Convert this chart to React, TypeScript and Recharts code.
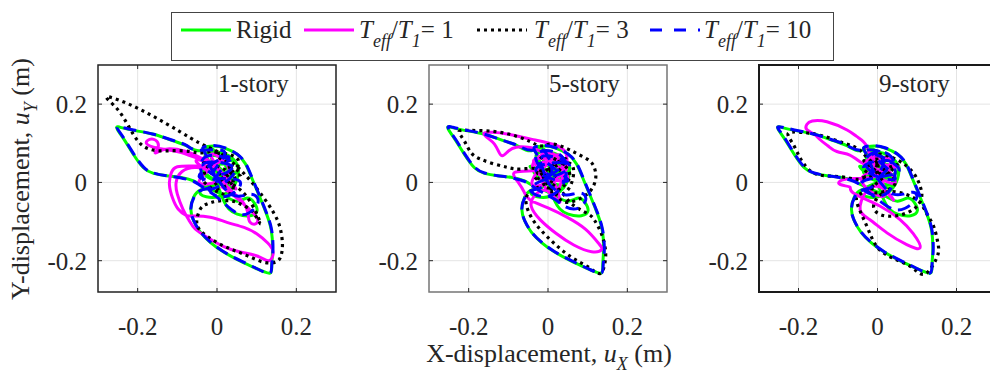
import React from 'react';
import { LineChart, Line, XAxis, YAxis, CartesianGrid, ReferenceArea } from 'recharts';

type P = [number, number];

const X_TICKS = [-0.2, 0, 0.2];
const Y_TICKS = [-0.2, 0, 0.2];
const X_DOMAIN: [number, number] = [-0.3, 0.3];
const Y_DOMAIN: [number, number] = [-0.28, 0.3];
const PANEL_TITLES = ['1-story', '5-story', '9-story'];

// Rigid base (same ground-level response for every building)
const RIGID: P[] = [
  [0.0, 0.0], [0.03, 0.045], [-0.035, 0.025], [0.045, -0.005], [-0.015, 0.065], [0.055, 0.035], [-0.04, -0.02], [0.02, -0.03],
  [0.045, 0.055], [-0.03, 0.07], [0.01, 0.015], [-0.045, 0.04], [0.035, -0.015], [0.0, 0.075],
  [-0.042, 0.081], [-0.076, 0.093], [-0.11, 0.106], [-0.16, 0.123], [-0.211, 0.133], [-0.241, 0.14], [-0.253, 0.141],
  [-0.246, 0.127], [-0.232, 0.106], [-0.211, 0.072], [-0.186, 0.038], [-0.16, 0.023], [-0.127, 0.017], [-0.093, 0.013],
  [-0.059, 0.004], [-0.042, -0.006],
  [-0.008, -0.021], [0.025, -0.038], [0.051, -0.048], [0.076, -0.04], [0.093, -0.051], [0.101, -0.072], [0.084, -0.085],
  [0.051, -0.081], [0.03, -0.068], [0.017, -0.047], [0.004, -0.013], [-0.012, 0.03], [-0.03, 0.075], [-0.034, 0.089],
  [-0.008, 0.093], [0.021, 0.087], [0.051, 0.072], [0.072, 0.047], [0.089, 0.008], [0.108, -0.038], [0.125, -0.081],
  [0.137, -0.123], [0.14, -0.174], [0.138, -0.212], [0.133, -0.232],
  [0.101, -0.221], [0.059, -0.201], [0.017, -0.178], [-0.017, -0.153], [-0.042, -0.127], [-0.059, -0.098], [-0.066, -0.068],
  [-0.059, -0.038], [-0.042, -0.02], [-0.017, -0.013], [0.0, 0.0],
];

// Teff/T1 = 1
const SSI1_1STORY: P[] = [
  [-0.03, 0.035], [0.015, 0.06], [-0.045, 0.0], [0.03, 0.025], [-0.015, 0.07], [0.045, -0.015], [0.0, 0.035], [-0.05, 0.05], [0.03, 0.0], [-0.02, 0.055],
  [-0.04, 0.06], [-0.09, 0.076], [-0.13, 0.084], [-0.16, 0.09], [-0.178, 0.1], [-0.17, 0.11], [-0.155, 0.108], [-0.148, 0.092],
  [-0.156, 0.076], [-0.145, 0.08], [-0.12, 0.086], [-0.08, 0.08], [-0.045, 0.065], [-0.02, 0.045],
  [-0.06, 0.042], [-0.1, 0.04], [-0.115, 0.025], [-0.12, -0.005], [-0.112, -0.04], [-0.098, -0.068], [-0.078, -0.084],
  [-0.059, -0.086], [-0.017, -0.089], [0.025, -0.102], [0.068, -0.115], [0.101, -0.132], [0.128, -0.155], [0.141, -0.175],
  [0.139, -0.192], [0.128, -0.2],
  [0.101, -0.188], [0.059, -0.178], [0.017, -0.164], [-0.025, -0.14], [-0.055, -0.119], [-0.07, -0.098], [-0.086, -0.068],
  [-0.1, -0.03], [-0.103, 0.0], [-0.088, 0.028], [-0.05, 0.038], [-0.005, 0.02], [0.035, -0.02], [0.065, -0.05],
  [0.078, -0.078], [0.082, -0.1], [0.097, -0.106], [0.102, -0.092], [0.085, -0.072], [0.05, -0.04], [0.01, -0.01],
];
const SSI1_5STORY: P[] = [
  [0.0, 0.02], [-0.03, 0.06], [0.045, 0.035], [-0.04, -0.005], [0.03, 0.07], [0.015, -0.03], [-0.015, 0.05], [0.05, 0.01], [-0.035, 0.03], [0.005, 0.075],
  [0.04, 0.035], [0.048, 0.045], [0.045, 0.075], [0.02, 0.095], [-0.04, 0.11], [-0.1, 0.123], [-0.14, 0.128], [-0.162, 0.125],
  [-0.15, 0.112], [-0.135, 0.098], [-0.125, 0.08], [-0.115, 0.068], [-0.1, 0.08], [-0.08, 0.09], [-0.05, 0.09], [-0.02, 0.08], [0.0, 0.05],
  [-0.04, 0.03], [-0.085, 0.025], [-0.075, 0.0], [-0.06, -0.025], [-0.045, -0.045],
  [0.0, -0.065], [0.05, -0.09], [0.095, -0.12], [0.127, -0.155], [0.135, -0.172],
  [0.11, -0.177], [0.065, -0.16], [0.02, -0.13], [-0.02, -0.095], [-0.042, -0.062], [-0.035, -0.035],
  [-0.01, -0.02], [0.015, -0.035], [0.03, -0.05], [0.02, -0.01], [0.0, 0.02],
];
const SSI1_9STORY: P[] = [
  [0.0, 0.02], [0.03, 0.06], [-0.03, 0.045], [0.045, 0.0], [-0.02, 0.075], [0.02, -0.03], [-0.04, 0.01], [0.05, 0.04], [0.0, 0.05],
  [-0.027, 0.092], [-0.052, 0.117], [-0.077, 0.134], [-0.128, 0.155], [-0.165, 0.157], [-0.179, 0.148], [-0.179, 0.135],
  [-0.16, 0.123], [-0.145, 0.109], [-0.125, 0.093], [-0.103, 0.079], [-0.07, 0.07], [-0.04, 0.05], [0.0, 0.02],
  [-0.05, 0.01], [-0.09, 0.006], [-0.095, -0.005], [-0.07, -0.012], [-0.061, -0.027],
  [0.007, -0.061], [0.057, -0.095], [0.09, -0.13], [0.108, -0.167],
  [0.074, -0.159], [0.024, -0.129], [-0.02, -0.095], [-0.044, -0.069], [-0.03, -0.025], [0.0, -0.01], [0.03, -0.03],
  [0.04, -0.045], [0.02, -0.02], [0.0, 0.0],
];

// Teff/T1 = 3
const SSI3_1STORY: P[] = [
  [0.01, 0.02], [-0.03, 0.05], [0.045, 0.01], [-0.015, -0.015], [0.055, 0.05], [0.0, 0.07], [0.06, 0.02], [-0.04, 0.02], [0.03, -0.03], [0.02, 0.06],
  [-0.034, 0.076], [-0.068, 0.079], [-0.11, 0.081], [-0.152, 0.081], [-0.186, 0.093], [-0.211, 0.123], [-0.236, 0.166],
  [-0.262, 0.199], [-0.278, 0.219],
  [-0.229, 0.203], [-0.161, 0.169], [-0.094, 0.13], [-0.043, 0.1], [0.0, 0.079], [0.041, 0.049], [0.075, 0.015],
  [0.109, -0.027], [0.143, -0.078], [0.16, -0.12], [0.165, -0.16], [0.162, -0.185], [0.151, -0.202],
  [0.118, -0.204], [0.076, -0.187], [0.034, -0.17], [-0.008, -0.149], [-0.042, -0.123], [-0.051, -0.098], [-0.042, -0.068],
  [-0.025, -0.055], [0.0, -0.048], [0.034, -0.047], [0.059, -0.055], [0.085, -0.07], [0.1, -0.09], [0.11, -0.105],
  [0.09, -0.06], [0.06, -0.02], [0.03, 0.0], [0.0, 0.02],
];
const SSI3_5STORY: P[] = [
  [0.01, 0.03], [-0.03, 0.01], [0.045, 0.06], [0.0, -0.02], [0.055, 0.02], [-0.02, 0.06], [0.03, -0.03], [0.06, 0.045], [-0.015, 0.025],
  [-0.03, 0.034], [-0.068, 0.034], [-0.101, 0.038], [-0.135, 0.047], [-0.169, 0.059], [-0.194, 0.076], [-0.211, 0.106], [-0.224, 0.13],
  [-0.2, 0.133], [-0.16, 0.132], [-0.12, 0.128], [-0.08, 0.118], [-0.045, 0.104], [-0.017, 0.093], [0.008, 0.098], [0.042, 0.089],
  [0.076, 0.072], [0.105, 0.055], [0.118, 0.034], [0.12, 0.008], [0.11, -0.017], [0.093, -0.034], [0.068, -0.047], [0.04, -0.05], [0.02, -0.03],
  [0.0, 0.0], [0.03, -0.02], [0.06, -0.055], [0.1, -0.08], [0.118, -0.098], [0.135, -0.132], [0.145, -0.174], [0.143, -0.208], [0.131, -0.233],
  [0.101, -0.216], [0.059, -0.191], [0.017, -0.157], [-0.017, -0.123], [-0.042, -0.089], [-0.055, -0.055], [-0.051, -0.03], [-0.03, -0.015], [0.0, 0.0],
];
const SSI3_9STORY: P[] = [
  [0.01, 0.02], [-0.03, 0.055], [0.045, 0.0], [-0.015, -0.02], [0.05, 0.045], [-0.035, 0.015], [0.02, 0.07], [0.0, 0.05],
  [-0.042, 0.08], [-0.084, 0.1], [-0.143, 0.12], [-0.194, 0.128], [-0.226, 0.125],
  [-0.215, 0.1], [-0.2, 0.07], [-0.186, 0.047], [-0.16, 0.023], [-0.118, 0.016], [-0.076, 0.012], [-0.042, 0.008], [0.0, 0.03],
  [0.0, 0.07], [0.049, 0.058], [0.091, 0.024], [0.108, -0.01], [0.112, -0.036], [0.1, -0.061], [0.074, -0.078], [0.041, -0.086],
  [0.007, -0.082], [-0.01, -0.06], [0.01, -0.03], [0.05, -0.025],
  [0.1, -0.045], [0.125, -0.08], [0.142, -0.112], [0.152, -0.15], [0.154, -0.18], [0.14, -0.212], [0.116, -0.235],
  [0.085, -0.216], [0.042, -0.195], [0.0, -0.166], [-0.027, -0.112], [-0.052, -0.052], [-0.045, -0.03], [-0.02, -0.015], [0.0, 0.0],
];

// Teff/T1 = 10
const SSI10_1STORY: P[] = [
  [0.005, 0.01], [-0.03, 0.05], [0.045, 0.03], [-0.02, -0.015], [0.03, 0.065], [-0.045, 0.015], [0.055, 0.005], [0.0, -0.035],
  [-0.035, 0.06], [0.04, 0.045], [-0.01, 0.02], [0.02, 0.075],
  [-0.042, 0.082], [-0.076, 0.094], [-0.11, 0.107], [-0.16, 0.123], [-0.21, 0.134], [-0.24, 0.141], [-0.252, 0.141],
  [-0.245, 0.128], [-0.231, 0.107], [-0.21, 0.073], [-0.185, 0.039], [-0.16, 0.024], [-0.127, 0.017], [-0.093, 0.012],
  [-0.06, 0.003], [-0.042, -0.008],
  [-0.01, -0.03], [0.02, -0.055], [0.04, -0.072], [0.06, -0.082], [0.08, -0.078], [0.1, -0.06], [0.102, -0.04], [0.085, -0.03],
  [0.06, -0.035], [0.035, -0.03], [0.015, -0.01], [-0.012, 0.03], [-0.03, 0.075], [-0.034, 0.09],
  [-0.008, 0.094], [0.021, 0.088], [0.051, 0.072], [0.073, 0.047], [0.09, 0.008], [0.109, -0.038], [0.126, -0.081],
  [0.138, -0.123], [0.141, -0.174], [0.138, -0.212], [0.132, -0.232],
  [0.1, -0.22], [0.059, -0.2], [0.017, -0.177], [-0.017, -0.152], [-0.042, -0.126], [-0.059, -0.097], [-0.066, -0.068],
  [-0.058, -0.038], [-0.04, -0.02], [-0.015, -0.012], [0.005, 0.01],
];
const SSI10_5STORY: P[] = [
  [0.0, 0.015], [0.035, 0.05], [-0.03, 0.03], [0.05, 0.005], [-0.015, 0.065], [0.055, 0.04], [-0.04, -0.01], [0.015, -0.03],
  [0.04, 0.06], [-0.03, 0.07], [0.005, 0.02], [-0.005, 0.075],
  [-0.042, 0.082], [-0.076, 0.094], [-0.11, 0.106], [-0.16, 0.123], [-0.21, 0.134], [-0.24, 0.141], [-0.252, 0.142],
  [-0.245, 0.128], [-0.231, 0.107], [-0.21, 0.073], [-0.185, 0.039], [-0.16, 0.024], [-0.127, 0.017], [-0.093, 0.012],
  [-0.06, 0.003], [-0.042, -0.008],
  [-0.01, -0.028], [0.02, -0.045], [0.04, -0.06], [0.065, -0.068], [0.085, -0.06], [0.095, -0.045], [0.09, -0.03], [0.07, -0.028],
  [0.045, -0.032], [0.02, -0.02], [0.0, 0.0], [-0.015, 0.04], [-0.03, 0.075], [-0.034, 0.09],
  [-0.008, 0.094], [0.021, 0.088], [0.051, 0.072], [0.073, 0.047], [0.09, 0.008], [0.109, -0.038], [0.126, -0.081],
  [0.138, -0.123], [0.142, -0.174], [0.139, -0.212], [0.133, -0.232],
  [0.1, -0.22], [0.059, -0.2], [0.017, -0.177], [-0.017, -0.152], [-0.042, -0.126], [-0.059, -0.097], [-0.066, -0.068],
  [-0.058, -0.038], [-0.04, -0.02], [-0.015, -0.012], [0.0, 0.015],
];
const SSI10_9STORY: P[] = [
  [0.0, 0.01], [0.03, 0.055], [-0.035, 0.035], [0.045, 0.01], [-0.01, 0.07], [0.055, 0.03], [-0.04, 0.0], [0.02, -0.03],
  [0.035, 0.065], [-0.03, 0.06], [0.0, 0.025], [0.01, 0.075],
  [-0.042, 0.082], [-0.076, 0.094], [-0.11, 0.107], [-0.16, 0.123], [-0.21, 0.134], [-0.241, 0.141], [-0.253, 0.141],
  [-0.245, 0.128], [-0.231, 0.107], [-0.21, 0.073], [-0.185, 0.039], [-0.16, 0.024], [-0.127, 0.017], [-0.093, 0.012],
  [-0.06, 0.003], [-0.042, -0.008],
  [-0.01, -0.035], [0.02, -0.058], [0.045, -0.07], [0.07, -0.066], [0.092, -0.05], [0.1, -0.035], [0.09, -0.025], [0.065, -0.03],
  [0.04, -0.03], [0.02, -0.015], [0.0, 0.01], [-0.015, 0.04], [-0.03, 0.075], [-0.034, 0.09],
  [-0.008, 0.094], [0.021, 0.088], [0.051, 0.072], [0.073, 0.047], [0.09, 0.008], [0.109, -0.038], [0.126, -0.081],
  [0.138, -0.123], [0.141, -0.174], [0.138, -0.212], [0.132, -0.232],
  [0.1, -0.22], [0.059, -0.2], [0.017, -0.177], [-0.017, -0.152], [-0.042, -0.126], [-0.059, -0.097], [-0.066, -0.068],
  [-0.058, -0.038], [-0.04, -0.02], [-0.015, -0.012], [0.0, 0.01],
];

const PANEL_SSI1 = [SSI1_1STORY, SSI1_5STORY, SSI1_9STORY];
const PANEL_SSI3 = [SSI3_1STORY, SSI3_5STORY, SSI3_9STORY];
const PANEL_SSI10 = [SSI10_1STORY, SSI10_5STORY, SSI10_9STORY];

const toRows = (pts: P[]) => pts.map(([x, y]) => ({ x, y }));

const FONT = '"Liberation Serif", "Times New Roman", serif';
const TEXT_COLOR = '#262626';
const PLOT_TOP = 65;

const PANEL_LAYOUT = [
  { left: 0, width: 340, mLeft: 58, mRight: 4, frame: '#262626', frameW: 1.5 },
  { left: 340, width: 330, mLeft: 49, mRight: 3, frame: '#7a7a7a', frameW: 1.5 },
  { left: 670, width: 330, mLeft: 49, mRight: 4, frame: '#1a1a1a', frameW: 2 },
];

const makeXTick = () => (props: any) => {
  const { x, y, payload } = props;
  return (
    <g>
      <line x1={x} y1={y} x2={x} y2={y - 4} stroke="#262626" strokeWidth={1} />
      <line x1={x} y1={PLOT_TOP} x2={x} y2={PLOT_TOP + 4} stroke="#262626" strokeWidth={1} />
      <text x={x} y={y + 43} textAnchor="middle" fontSize={25} fontFamily={FONT} fill={TEXT_COLOR}>
        {String(payload.value)}
      </text>
    </g>
  );
};

const makeYTick = (plotRight: number) => (props: any) => {
  const { x, y, payload } = props;
  return (
    <g>
      <line x1={x} y1={y} x2={x + 4} y2={y} stroke="#262626" strokeWidth={1} />
      <line x1={plotRight - 4} y1={y} x2={plotRight} y2={y} stroke="#262626" strokeWidth={1} />
      <text x={x - 11} y={y + 9} textAnchor="end" fontSize={25} fontFamily={FONT} fill={TEXT_COLOR}>
        {String(payload.value)}
      </text>
    </g>
  );
};

function Panel({ idx }: { idx: number }) {
  const L = PANEL_LAYOUT[idx];
  const plotRight = L.width - L.mRight;
  return (
    <div style={{ position: 'absolute', left: L.left, top: 0 }}>
      <LineChart width={L.width} height={379} margin={{ top: PLOT_TOP, right: L.mRight, bottom: 27, left: L.mLeft }}>
        <CartesianGrid stroke="#e4e4e4" strokeWidth={1} />
        <XAxis
          type="number"
          dataKey="x"
          domain={X_DOMAIN}
          ticks={X_TICKS}
          allowDataOverflow
          interval={0}
          height={60}
          tickSize={0}
          tickMargin={0}
          axisLine={false}
          tickLine={false}
          tick={makeXTick()}
        />
        <YAxis
          type="number"
          domain={Y_DOMAIN}
          ticks={Y_TICKS}
          allowDataOverflow
          interval={0}
          width={40}
          tickSize={0}
          tickMargin={0}
          axisLine={false}
          tickLine={false}
          tick={makeYTick(plotRight)}
        />
        <Line data={toRows(RIGID)} dataKey="y" type="natural" stroke="#00ff00" strokeWidth={3} dot={false}
          strokeLinejoin="round" isAnimationActive={false} />
        <Line data={toRows(PANEL_SSI1[idx])} dataKey="y" type="natural" stroke="#ff00ff" strokeWidth={3} dot={false}
          strokeLinejoin="round" isAnimationActive={false} />
        <Line data={toRows(PANEL_SSI3[idx])} dataKey="y" type="natural" stroke="#000000" strokeWidth={3.2} dot={false}
          strokeDasharray="3 4" isAnimationActive={false} />
        <Line data={toRows(PANEL_SSI10[idx])} dataKey="y" type="natural" stroke="#0000ff" strokeWidth={3} dot={false}
          strokeDasharray="13 7" isAnimationActive={false} />
        <ReferenceArea x1={X_DOMAIN[0]} x2={X_DOMAIN[1]} y1={Y_DOMAIN[0]} y2={Y_DOMAIN[1]} fill="none" fillOpacity={0}
          stroke={L.frame} strokeWidth={L.frameW} ifOverflow="visible" />
      </LineChart>
      <div style={{ position: 'absolute', left: L.mLeft + 40 + 120, top: 71, fontFamily: FONT, fontSize: 25,
        lineHeight: '25px', color: TEXT_COLOR, whiteSpace: 'nowrap' }}>
        {PANEL_TITLES[idx]}
      </div>
    </div>
  );
}

const LegendLine = ({ left, color, dash }: { left: number; color: string; dash?: string }) => (
  <svg style={{ position: 'absolute', left, top: 12 }} width={50} height={10}>
    <line x1={0} y1={5} x2={50} y2={5} stroke={color} strokeWidth={3} strokeDasharray={dash} />
  </svg>
);

const SUB = { fontSize: 18, fontStyle: 'italic' as const, verticalAlign: -9, lineHeight: 0 };

const TeffLabel = ({ left, value }: { left: number; value: string }) => (
  <div style={{ position: 'absolute', left, top: 4, whiteSpace: 'nowrap', fontFamily: FONT, fontSize: 25, lineHeight: '25px', color: TEXT_COLOR }}>
    <i>T</i><sub style={SUB}>eff</sub>/<i>T</i><sub style={SUB}>1</sub>= {value}
  </div>
);

export default function App() {
  return (
    <div style={{ position: 'absolute', left: 0, top: 0, width: 990, height: 379, overflow: 'hidden', background: '#fff' }}>
      {[0, 1, 2].map((i) => <Panel key={i} idx={i} />)}
      <div style={{ position: 'absolute', left: 171, top: 12, width: 663, height: 49, border: '1px solid #444',
        boxSizing: 'border-box', background: '#fff' }}>
        <LegendLine left={9} color="#00ff00" />
        <div style={{ position: 'absolute', left: 64, top: 4, fontFamily: FONT, fontSize: 25, lineHeight: '25px', color: TEXT_COLOR }}>Rigid</div>
        <LegendLine left={132} color="#ff00ff" />
        <TeffLabel left={187} value="1" />
        <LegendLine left={305} color="#000000" dash="3 4" />
        <TeffLabel left={362} value="3" />
        <LegendLine left={478} color="#0000ff" dash="12 12" />
        <TeffLabel left={532} value="10" />
      </div>
      <div style={{ position: 'absolute', left: 349, top: 344, width: 400, height: 20, textAlign: 'center', fontFamily: FONT,
        fontSize: 26, lineHeight: '20px', color: TEXT_COLOR, whiteSpace: 'nowrap' }}>
        X-displacement, <i>u</i><sub style={{ fontSize: 18, fontStyle: 'italic', verticalAlign: -8, lineHeight: 0 }}>X</sub> (m)
      </div>
      <div style={{ position: 'absolute', left: 21 - 150, top: 179 - 13, width: 300, height: 26, textAlign: 'center',
        fontFamily: FONT, fontSize: 26, lineHeight: '26px', color: TEXT_COLOR, whiteSpace: 'nowrap',
        transform: 'rotate(-90deg)', transformOrigin: '50% 50%' }}>
        Y-displacement, <i>u</i><sub style={{ fontSize: 18, fontStyle: 'italic', verticalAlign: -8, lineHeight: 0 }}>Y</sub> (m)
      </div>
    </div>
  );
}
